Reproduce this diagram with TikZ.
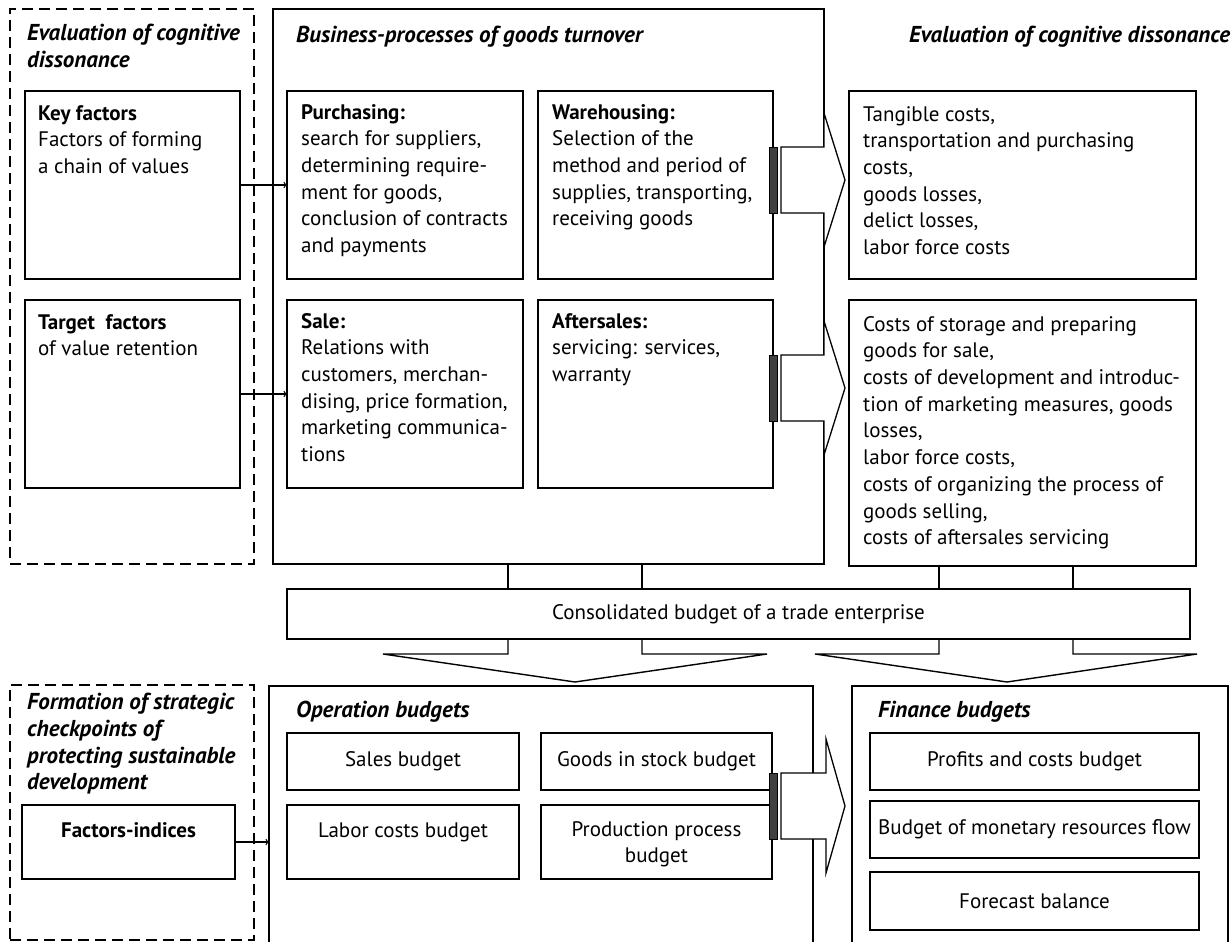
\documentclass[tikz,border=0pt]{standalone}
\usepackage{fontspec}
\setmainfont{PT Sans}
\usetikzlibrary{positioning}

\tikzset{
	box/.style={draw, line width=1.8pt, inner sep=0pt, outer sep=0pt, anchor=north west, font=\fontsize{21}{26.7}\selectfont},
	dashbox/.style={box, line width=1.9pt, dash pattern=on 11pt off 6pt},
	txt/.style={inner sep=0pt, align=left, font=\fontsize{21}{26.7}\selectfont, execute at begin node=\strut},
	ttl/.style={txt, font=\fontsize{23}{26.7}\selectfont\bfseries\itshape},
	blockarrow/.style={draw, fill=white, line width=1.3pt},
	bar/.style={draw, fill=black!75, line width=1pt},
	link/.style={->, line width=1.3pt}
}

\begin{document}
\begin{tikzpicture}[x=1pt, y=-1pt]
	\useasboundingbox (0,0) rectangle (1232,942);
	\clip (0,0) rectangle (1232,942);

	% Left frame: evaluation of cognitive dissonance
	\node[dashbox, minimum width=244pt, minimum height=555pt] (evalL) at (10,9) {};
	\node[ttl, below right=15pt and 17pt of evalL.north west] (evalLT) {Evaluation of cognitive\\dissonance};
	\node[box, minimum width=215pt, minimum height=188pt] (key) at (25,91) {};
	\node[box, minimum width=215pt, minimum height=188pt, below=21pt of key] (target) {};
	\node[txt, below right=14pt and 13pt of key.north west] (keyT) {\textbf{Key factors}\\Factors of forming\\a chain of values};
	\node[txt, below right=14pt and 13pt of target.north west] (targetT) {\textbf{Target~ factors}\\of value retention};

	% Business-processes
	\node[box, minimum width=551pt, minimum height=555pt] (biz) at (273,9) {};
	\node[ttl, below right=15pt and 23pt of biz.north west] (bizT) {Business-processes of goods turnover};
	\node[box, minimum width=236pt, minimum height=188pt] (purch) at (287,91) {};
	\node[box, minimum width=235pt, minimum height=188pt, right=15pt of purch] (wareh) {};
	\node[box, minimum width=236pt, minimum height=188pt, below=21pt of purch] (sale) {};
	\node[box, minimum width=235pt, minimum height=188pt, right=15pt of sale] (after) {};
	\node[txt, below right=13pt and 14pt of purch.north west] (purchT) {\textbf{Purchasing:}\\search for suppliers,\\determining require-\\ment for goods,\\conclusion of contracts\\and payments};
	\node[txt, below right=13pt and 14pt of wareh.north west] (warehT) {\textbf{Warehousing:}\\Selection of the\\method and period of\\supplies, transporting,\\receiving goods};
	\node[txt, below right=13pt and 14pt of sale.north west] (saleT) {\textbf{Sale:}\\Relations with\\customers, merchan-\\dising, price formation,\\marketing communica-\\tions};
	\node[txt, below right=13pt and 14pt of after.north west] (afterT) {\textbf{Aftersales:}\\servicing: services,\\warranty};

	% Costs
	\node[ttl, anchor=north west] (evalRT) at (909,24) {Evaluation of cognitive dissonance};
	\node[box, minimum width=347pt, minimum height=188pt] (cost1) at (849,91) {};
	\node[box, minimum width=347pt, minimum height=266pt, below=21pt of cost1] (cost2) {};
	\node[txt, below right=15pt and 14pt of cost1.north west] (cost1T) {Tangible costs,\\transportation and purchasing\\costs,\\goods losses,\\delict losses,\\labor force costs};
	\node[txt, below right=16pt and 14pt of cost2.north west] (cost2T) {Costs of storage and preparing\\goods for sale,\\costs of development and introduc-\\tion of marketing measures, goods\\losses,\\labor force costs,\\costs of organizing the process of\\goods selling,\\costs of aftersales servicing};

	% Consolidated budget
	\node[box, minimum width=903pt, minimum height=50pt] (cons) at (287,589) {Consolidated budget of a trade enterprise};

	% Lower left frame
	\node[dashbox, minimum width=244pt, minimum height=255pt] (evalB) at (10,685) {};
	\node[ttl, below right=8pt and 17pt of evalB.north west] (evalBT) {Formation of strategic\\checkpoints of\\protecting sustainable\\development};
	\node[box, minimum width=213pt, minimum height=74pt] (findx) at (22,805) {};
	\node[txt, align=center, below=14pt of findx.north] (findxT) {\textbf{Factors-indices}};

	% Operation budgets
	\node[box, minimum width=544pt, minimum height=280pt] (oper) at (269,686) {};
	\node[ttl, below right=13pt and 27pt of oper.north west] (operT) {Operation budgets};
	\node[box, minimum width=232pt, minimum height=57pt] (sales) at (287,733) {Sales budget};
	\node[box, minimum width=231pt, minimum height=57pt, right=22pt of sales] (stock) {Goods in stock budget};
	\node[box, minimum width=232pt, minimum height=74pt, below=15pt of sales] (labor) {};
	\node[box, minimum width=231pt, minimum height=74pt, right=22pt of labor] (prod) {};
	\node[txt, align=center, below=14pt of labor.north] (laborT) {Labor costs budget};
	\node[txt, align=center, below=16pt of prod.north] (prodT) {Production process\\budget};

	% Finance budgets
	\node[box, minimum width=376pt, minimum height=280pt] (fin) at (852,686) {};
	\node[ttl, below right=13pt and 26pt of fin.north west] (finT) {Finance budgets};
	\node[box, minimum width=329pt, minimum height=57pt] (profit) at (870,733) {Profits and costs budget};
	\node[box, minimum width=329pt, minimum height=57pt, below=11pt of profit] (money) {Budget of monetary resources flow};
	\node[box, minimum width=329pt, minimum height=58pt, below=14pt of money] (fcast) {Forecast balance};

	% Small arrows
	\draw[link] (key.east) -- (purch.west);
	\draw[link] (target.east) -- (sale.west);
	\draw[link] (findx.east) -- (findx.east -| oper.west);

	% Block arrows to the right
	\foreach \yc/\xh in {180/824, 388/824, 806/826} {
		\filldraw[bar] (769,\yc-33) rectangle (777,\yc+33);
		\draw[blockarrow] (781,\yc-33) -- (\xh,\yc-33) -- (\xh,\yc-67) -- (845,\yc) -- (\xh,\yc+67) -- (\xh,\yc+33) -- (781,\yc+33) -- cycle;
	}

	% Into and out of the consolidated budget
	\coordinate (v1) at (508,600);
	\coordinate (v2) at (642,600);
	\coordinate (v3) at (939,600);
	\coordinate (v4) at (1073,600);
	\draw[line width=1.6pt] (biz.south -| v1) -- (cons.north -| v1);
	\draw[line width=1.6pt] (biz.south -| v2) -- (cons.north -| v2);
	\draw[line width=1.6pt] (cost2.south -| v3) -- (cons.north -| v3);
	\draw[line width=1.6pt] (cost2.south -| v4) -- (cons.north -| v4);
	\draw[line width=1.4pt] (cons.south -| v1) |- (383,654) -- (575,682) -- (767,654) -| (cons.south -| v2);
	\draw[line width=1.4pt] (cons.south -| v3) |- (815,654) -- (1007,682) -- (1197,654) -| (cons.south -| v4);

\end{tikzpicture}
\end{document}
